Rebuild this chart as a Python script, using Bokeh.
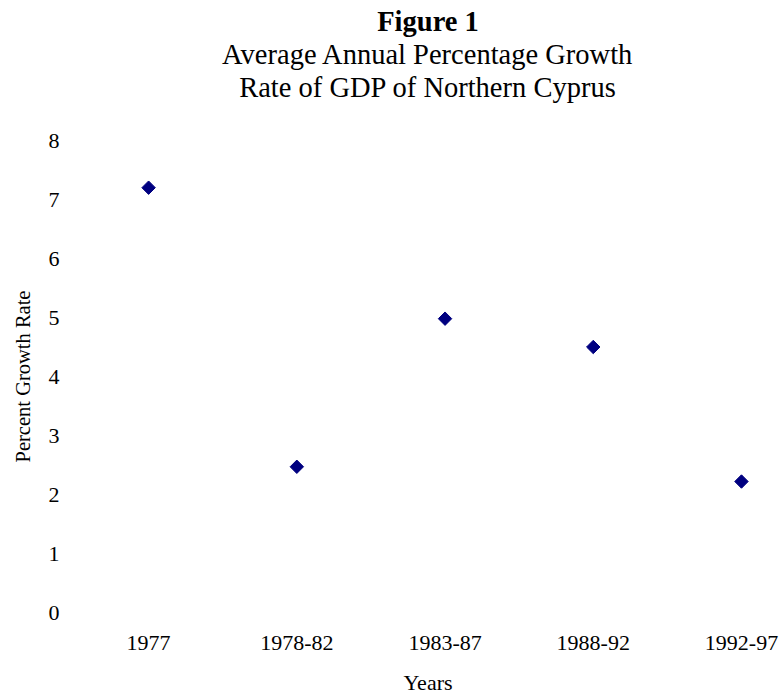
from bokeh.plotting import figure
from bokeh.models import Range1d, FixedTicker, Title
from bokeh.embed import file_html
from bokeh.resources import INLINE
import numpy as np

# Data
categories = ["1977", "1978-82", "1983-87", "1988-92", "1992-97"]
growth = [7.2, 2.47, 4.98, 4.5, 2.22]
y_ticks = [0, 1, 2, 3, 4, 5, 6, 7, 8]

FONT = "Liberation Serif"

xs = list(range(len(categories)))

p = figure(width=781, height=697, output_backend="svg", toolbar_location=None,
           x_range=Range1d(-0.5, 4.27), y_range=Range1d(0, 8),
           min_border_left=74, min_border_right=0, min_border_top=140,
           min_border_bottom=84)
p.title = None
p.outline_line_color = None
p.background_fill_color = "white"
p.border_fill_color = "white"
p.grid.grid_line_color = None

p.scatter(xs, growth, marker="square", angle=np.pi / 4, size=9.5,
          fill_color="#000080", line_color="#000080")

# x axis
xa = p.xaxis[0]
xa.ticker = FixedTicker(ticks=xs)
xa.major_label_overrides = {i: c for i, c in enumerate(categories)}
xa.axis_line_color = None
xa.major_tick_line_color = None
xa.minor_tick_line_color = None
xa.major_tick_out = 0
xa.major_tick_in = 0
xa.minor_tick_out = 0
xa.minor_tick_in = 0
xa.major_label_text_font = FONT
xa.major_label_text_font_size = "22px"
xa.major_label_text_color = "black"
xa.major_label_standoff = 23
xa.axis_label = "Years"
xa.axis_label_text_font = FONT
xa.axis_label_text_font_size = "22px"
xa.axis_label_text_font_style = "normal"
xa.axis_label_text_color = "black"
xa.axis_label_standoff = 17

# y axis
ya = p.yaxis[0]
ya.ticker = FixedTicker(ticks=y_ticks)
ya.axis_line_color = None
ya.major_tick_line_color = None
ya.minor_tick_line_color = None
ya.major_tick_out = 0
ya.major_tick_in = 0
ya.minor_tick_out = 0
ya.minor_tick_in = 0
ya.major_label_text_font = FONT
ya.major_label_text_font_size = "22px"
ya.major_label_text_color = "black"
ya.major_label_standoff = 15
ya.axis_label = "Percent Growth Rate"
ya.axis_label_text_font = FONT
ya.axis_label_text_font_size = "20.5px"
ya.axis_label_text_font_style = "normal"
ya.axis_label_text_color = "black"
ya.axis_label_standoff = 12

# spacer between the title block and the plot area
p.add_layout(Title(text=" ", text_font=FONT, text_font_size="33px",
                   standoff=0, offset=0), "above")
# titles (added bottom-up)
for txt, style in [("Rate of GDP of Northern Cyprus", "normal"),
                   ("Average Annual Percentage Growth", "normal"),
                   ("Figure 1", "bold")]:
    p.add_layout(Title(text=txt, align="center", text_font=FONT,
                       text_font_size="28.5px", text_font_style=style,
                       text_color="black", standoff=0, offset=-13), "above")

open("out.html", "w").write(file_html(p, INLINE))
